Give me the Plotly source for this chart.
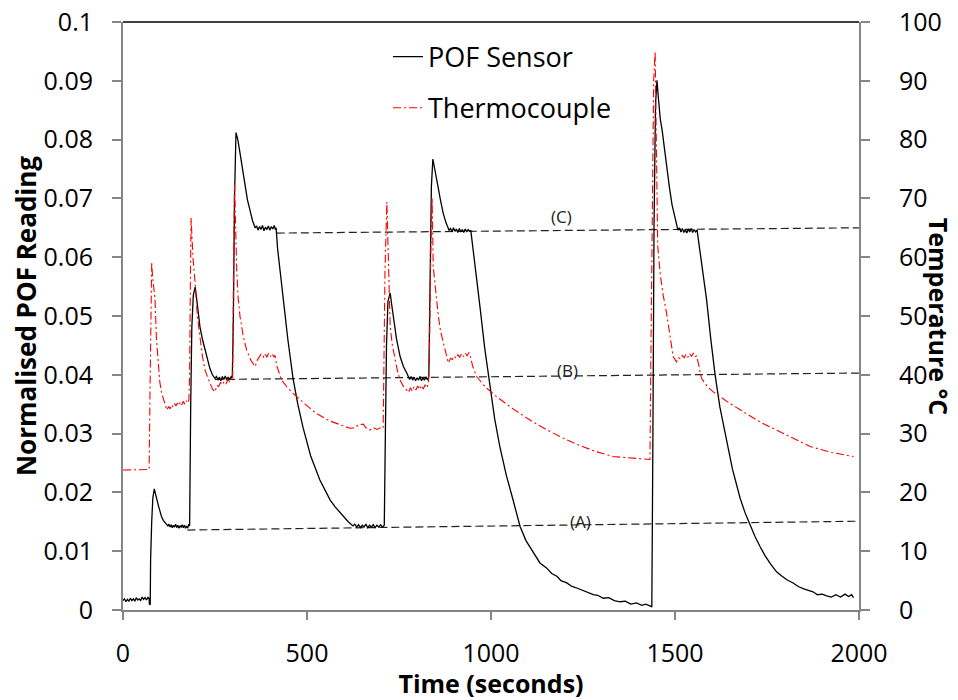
import plotly.graph_objects as go

# ---------------- data ----------------
pof_time = [0, 4, 8, 12, 16, 20, 24, 28, 32, 36, 40, 44, 48, 52, 56, 60, 64, 68, 71, 72, 74, 75, 78, 81, 85, 88, 92, 96, 100, 105, 110, 114, 118, 122,
            125, 128, 131, 134, 137, 140, 143, 146, 149, 152, 155, 158, 161, 164, 167, 170, 173, 176, 179, 181,
            184, 187, 191, 196, 200, 205, 209, 216, 223, 230, 236, 243, 250,
            254, 258, 262, 266, 270, 274, 278, 282, 286, 290, 294, 297,
            300, 303, 307, 312, 318, 325, 332, 338, 345, 352, 359,
            363, 367, 371, 375, 379, 383, 387, 391, 395, 399, 403, 407, 411, 414, 416,
            420, 428, 435, 448, 462, 475, 489, 510, 535, 549, 563, 577, 590, 600, 612, 625,
            630, 635, 640, 645, 650, 655, 660, 665, 670, 675, 680, 685, 690, 695, 700, 705, 710,
            713, 716, 720, 726, 730, 734, 743, 753, 762, 771, 775,
            779, 783, 787, 791, 795, 799, 803, 807, 811, 815, 819, 823, 827, 831,
            834, 838, 842, 846, 851, 856, 863, 870, 878, 886,
            890, 894, 898, 902, 906, 910, 914, 918, 922, 926, 930, 934, 938, 942, 945,
            951, 960, 970, 983, 997, 1010, 1024, 1042, 1060, 1079, 1095, 1110, 1120, 1133, 1150, 1165, 1180, 1190, 1206,
            1220, 1235, 1250, 1265, 1278, 1290, 1305, 1320, 1335, 1351, 1365, 1380, 1395, 1410, 1420, 1432, 1437,
            1440, 1443, 1447, 1451, 1455, 1460, 1465, 1472, 1478, 1485, 1492, 1500, 1508,
            1512, 1516, 1520, 1524, 1528, 1532, 1536, 1540, 1544, 1548, 1552, 1556, 1560,
            1568, 1577, 1586, 1597, 1609, 1622, 1636, 1656, 1677, 1690, 1704, 1718, 1731, 1745, 1760, 1776, 1790, 1805, 1821,
            1835, 1850, 1862, 1875, 1887, 1900, 1912, 1925, 1937, 1950, 1962, 1972, 1980, 1985]
pof_value = [0.0016, 0.0019, 0.0014, 0.0018, 0.0015, 0.0020, 0.0016, 0.0019, 0.0015, 0.0021, 0.0017, 0.0019, 0.0016, 0.0022, 0.0018, 0.0021, 0.0017, 0.0022, 0.0019, 0.0009, 0.0010, 0.0085, 0.0150, 0.0190, 0.0206, 0.0200, 0.0188, 0.0178, 0.0168, 0.0158, 0.0152, 0.0149, 0.0145, 0.0143,
             0.0146, 0.0141, 0.0145, 0.0140, 0.0144, 0.0141, 0.0146, 0.0140, 0.0144, 0.0139, 0.0143, 0.0141, 0.0145, 0.0140, 0.0144, 0.0139, 0.0142, 0.0140, 0.0146, 0.0143,
             0.0350, 0.0480, 0.0535, 0.0549, 0.0530, 0.0500, 0.0482, 0.0460, 0.0442, 0.0424, 0.0411, 0.0400, 0.0394,
             0.0397, 0.0391, 0.0396, 0.0390, 0.0397, 0.0392, 0.0398, 0.0391, 0.0396, 0.0392, 0.0397, 0.0395,
             0.0500, 0.0700, 0.0812, 0.0800, 0.0777, 0.0748, 0.0720, 0.0698, 0.0680, 0.0662, 0.0650,
             0.0653, 0.0646, 0.0652, 0.0647, 0.0654, 0.0645, 0.0651, 0.0647, 0.0653, 0.0646, 0.0652, 0.0648, 0.0654, 0.0647, 0.0650,
             0.0615, 0.0568, 0.0527, 0.0460, 0.0394, 0.0350, 0.0311, 0.0262, 0.0221, 0.0203, 0.0187, 0.0175, 0.0165, 0.0158, 0.0150, 0.0143,
             0.0146, 0.0141, 0.0145, 0.0140, 0.0144, 0.0141, 0.0146, 0.0140, 0.0144, 0.0141, 0.0145, 0.0140, 0.0144, 0.0141, 0.0145, 0.0141, 0.0144,
             0.0300, 0.0450, 0.0525, 0.0539, 0.0520, 0.0499, 0.0462, 0.0431, 0.0414, 0.0403, 0.0396,
             0.0392, 0.0397, 0.0391, 0.0396, 0.0390, 0.0395, 0.0391, 0.0397, 0.0390, 0.0395, 0.0391, 0.0396, 0.0392, 0.0396,
             0.0550, 0.0720, 0.0767, 0.0755, 0.0738, 0.0720, 0.0696, 0.0675, 0.0658, 0.0646,
             0.0649, 0.0643, 0.0650, 0.0644, 0.0648, 0.0642, 0.0649, 0.0643, 0.0647, 0.0642, 0.0648, 0.0643, 0.0647, 0.0644, 0.0646,
             0.0612, 0.0563, 0.0516, 0.0445, 0.0380, 0.0325, 0.0278, 0.0228, 0.0187, 0.0142, 0.0118, 0.0103, 0.0094, 0.0080, 0.0072, 0.0062, 0.0057, 0.0050, 0.0046,
             0.0040, 0.0037, 0.0033, 0.0030, 0.0026, 0.0025, 0.0020, 0.0021, 0.0016, 0.0014, 0.0015, 0.0010, 0.0012, 0.0008, 0.0010, 0.0007, 0.0005,
             0.0300, 0.0650, 0.0860, 0.0901, 0.0870, 0.0835, 0.0816, 0.0780, 0.0748, 0.0718, 0.0689, 0.0665, 0.0646,
             0.0650, 0.0643, 0.0649, 0.0642, 0.0647, 0.0641, 0.0648, 0.0643, 0.0649, 0.0642, 0.0647, 0.0643, 0.0646,
             0.0612, 0.0570, 0.0527, 0.0462, 0.0400, 0.0345, 0.0301, 0.0240, 0.0190, 0.0166, 0.0145, 0.0124, 0.0108, 0.0092, 0.0078, 0.0065, 0.0058, 0.0051, 0.0046,
             0.0040, 0.0036, 0.0034, 0.0031, 0.0026, 0.0027, 0.0024, 0.0022, 0.0026, 0.0022, 0.0027, 0.0023, 0.0026, 0.0021]

tc_time = [0, 20, 40, 60, 71, 73, 76, 78, 80, 83, 87, 91, 96, 100, 105, 112, 119,
           124, 128, 132, 136, 140, 144, 148, 152, 156, 160, 164, 168, 172, 176, 179,
           181, 183, 185, 187, 190, 196, 202, 209, 216, 223, 230, 236, 243, 250,
           255, 260, 265, 270, 275, 280, 285, 290, 295, 298,
           300, 303, 305, 307, 309, 313, 318, 327, 336, 347, 359,
           365, 370, 375, 381, 386, 391, 396, 401, 406, 410, 413,
           418, 424, 431, 447, 463, 495, 526, 560, 590, 617, 630, 640, 653, 660, 671, 680, 690, 700, 707,
           709, 712, 717, 720, 723, 726, 732, 739, 746, 753, 762, 771,
           776, 781, 786, 791, 796, 801, 806, 811, 816, 821, 826, 830,
           833, 836, 840, 843, 850, 857, 863, 870, 877, 884,
           890, 895, 900, 905, 910, 915, 920, 925, 930, 935, 940, 943,
           950, 961, 985, 1015, 1060, 1106, 1150, 1197, 1240, 1287, 1332, 1380, 1432,
           1434, 1438, 1442, 1446, 1448, 1450, 1453, 1460, 1468, 1477, 1486, 1495, 1504,
           1510, 1515, 1520, 1525, 1530, 1535, 1540, 1545, 1550, 1555, 1559,
           1565, 1572, 1588, 1604, 1645, 1686, 1730, 1776, 1820, 1867, 1925, 1985]
tc_value = [23.8, 23.8, 23.8, 23.8, 23.9, 35.0, 52.0, 59.2, 57.0, 55.0, 52.7, 46.0, 41.4, 38.8, 36.9, 35.2, 34.0,
            34.6, 34.2, 34.9, 34.5, 35.1, 34.7, 35.2, 34.8, 35.4, 34.9, 35.5, 35.0, 35.6, 35.2, 35.8,
            40.0, 55.0, 66.7, 64.0, 60.0, 55.6, 50.0, 46.5, 43.1, 40.8, 39.4, 38.6, 37.6, 37.1,
            38.2, 38.0, 38.7, 38.3, 38.9, 38.5, 39.2, 38.8, 39.3, 39.0,
            55.0, 72.3, 68.0, 62.0, 57.8, 53.0, 49.9, 46.5, 44.2, 42.5, 41.4,
            42.5, 42.9, 43.5, 43.0, 43.6, 43.0, 43.7, 43.1, 43.6, 43.0, 43.3,
            41.5, 40.2, 39.1, 37.8, 36.8, 35.0, 33.4, 32.2, 31.5, 30.9, 31.0, 31.5, 31.6, 31.0, 30.6, 31.0, 30.7, 31.0, 30.9,
            40.0, 58.0, 69.4, 62.0, 54.0, 48.2, 45.0, 42.5, 40.6, 39.1, 38.0, 37.4,
            37.0, 37.8, 37.2, 38.0, 37.4, 38.1, 37.5, 38.2, 37.6, 38.3, 37.8, 38.6,
            45.0, 60.0, 70.1, 58.4, 53.5, 49.9, 47.4, 45.4, 43.6, 42.0,
            42.8, 42.6, 43.2, 42.8, 43.4, 43.0, 43.6, 43.1, 43.7, 43.2, 43.8, 43.4,
            41.5, 39.7, 37.9, 36.3, 34.2, 32.3, 30.7, 29.2, 28.0, 26.9, 26.1, 25.9, 25.6,
            40.0, 70.0, 90.0, 95.0, 85.0, 70.0, 62.0, 57.0, 53.5, 50.5, 46.5, 43.1, 42.2,
            42.9, 42.7, 43.3, 42.9, 43.5, 43.0, 43.6, 43.1, 43.7, 43.1, 43.2,
            41.5, 39.4, 38.0, 37.1, 35.3, 33.7, 32.0, 30.6, 29.2, 27.8, 26.8, 26.1]

# reference levels (A), (B), (C)
ref_a_time = [175, 2000]
ref_a_value = [0.0136, 0.0151]
ref_b_time = [250, 2000]
ref_b_value = [0.0392, 0.0403]
ref_c_time = [418, 2000]
ref_c_value = [0.0641, 0.0650]
ref_labels = ["(A)", "(B)", "(C)"]
ref_label_time = [1242, 1209, 1192]
ref_label_value = [0.0150, 0.0408, 0.0669]

x_ticks = [0, 500, 1000, 1500, 2000]
y_ticks = [0, 0.01, 0.02, 0.03, 0.04, 0.05, 0.06, 0.07, 0.08, 0.09, 0.1]
y_tick_text = ["0", "0.01", "0.02", "0.03", "0.04", "0.05", "0.06", "0.07", "0.08", "0.09", "0.1"]
y2_ticks = [0, 10, 20, 30, 40, 50, 60, 70, 80, 90, 100]

# ---------------- figure ----------------
FONT = "Open Sans"
AXIS_GREY = "#868686"

fig = go.Figure()

for rx, ry in [(ref_a_time, ref_a_value), (ref_b_time, ref_b_value), (ref_c_time, ref_c_value)]:
    fig.add_trace(go.Scatter(x=rx, y=ry, mode="lines", showlegend=False, hoverinfo="skip",
                             line=dict(color="#222222", width=1.2, dash="8px,4px")))

fig.add_trace(go.Scatter(x=pof_time, y=pof_value, mode="lines", name="POF Sensor",
                         legendgroup="a", line=dict(color="black", width=1.3)))
fig.add_trace(go.Scatter(x=tc_time, y=tc_value, mode="lines", name="Thermocouple",
                         legendgroup="b", yaxis="y2",
                         line=dict(color="#FF0000", width=1.1, dash="8px,3px,2px,3px")))

for lab, lx, ly in zip(ref_labels, ref_label_time, ref_label_value):
    fig.add_annotation(x=lx, y=ly, xref="x", yref="y", text=lab, showarrow=False,
                       font=dict(family=FONT, size=17, color="#222222"))

fig.add_annotation(x=1.109, y=0.5, xref="paper", yref="paper", text="Temperature °C",
                   textangle=90, showarrow=False, xanchor="center", yanchor="middle",
                   font=dict(family=FONT, size=25, color="black", weight="bold"))

# the page body adds an 8px margin; the figure is sized so the plot area
# lands at x 123-859, y 22-610 of the 958x700 window
fig.update_layout(
    width=950, height=692,
    margin=dict(l=115, r=99, t=14, b=90, autoexpand=False),
    paper_bgcolor="white", plot_bgcolor="white",
    font=dict(family=FONT, size=25, color="black"),
    legend=dict(x=0.36, y=0.982, xanchor="left", yanchor="top",
                bgcolor="rgba(0,0,0,0)", font=dict(family=FONT, size=27),
                tracegroupgap=13),
    xaxis=dict(range=[0, 2000], tickvals=x_ticks, ticks="outside", ticklen=8,
               tickcolor=AXIS_GREY, tickwidth=1.5, showline=True, linecolor=AXIS_GREY,
               linewidth=2, showgrid=False, zeroline=False, ticklabelstandoff=12,
               automargin=False, ticklabeloverflow="allow",
               title=dict(text="Time (seconds)", standoff=8,
                          font=dict(family=FONT, size=25, weight="bold"))),
    yaxis=dict(range=[0, 0.1], tickvals=y_ticks, ticktext=y_tick_text, ticks="outside",
               ticklen=9, tickcolor=AXIS_GREY, tickwidth=1.5, showline=True,
               linecolor=AXIS_GREY, linewidth=2, showgrid=False, zeroline=False,
               ticklabelstandoff=14, automargin=False, ticklabeloverflow="allow",
               title=dict(text="Normalised POF Reading", standoff=3,
                          font=dict(family=FONT, size=26, weight="bold"))),
    yaxis2=dict(range=[0, 100], tickvals=y2_ticks, overlaying="y", side="right",
                ticks="outside", ticklen=9, tickcolor=AXIS_GREY, tickwidth=1.5,
                showline=True, linecolor=AXIS_GREY, linewidth=2, showgrid=False,
                zeroline=False, ticklabelstandoff=24, automargin=False,
                ticklabeloverflow="allow"),
)

# plot-area top border
fig.add_shape(type="line", xref="paper", yref="paper", x0=0, x1=1, y0=1, y1=1,
              line=dict(color="black", width=1.5))

fig.write_html("out.html")
